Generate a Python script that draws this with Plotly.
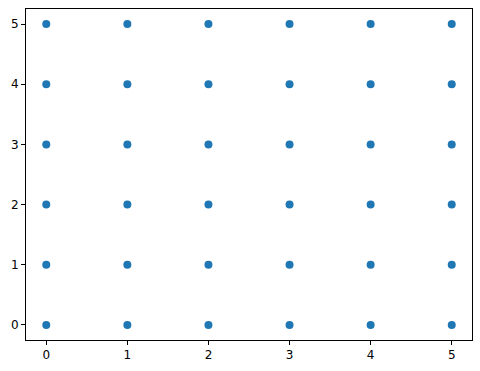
import plotly.graph_objects as go

x_values = [0, 1, 2, 3, 4, 5,
            0, 1, 2, 3, 4, 5,
            0, 1, 2, 3, 4, 5,
            0, 1, 2, 3, 4, 5,
            0, 1, 2, 3, 4, 5,
            0, 1, 2, 3, 4, 5]
y_values = [0, 0, 0, 0, 0, 0,
            1, 1, 1, 1, 1, 1,
            2, 2, 2, 2, 2, 2,
            3, 3, 3, 3, 3, 3,
            4, 4, 4, 4, 4, 4,
            5, 5, 5, 5, 5, 5]
tick_values = [0, 1, 2, 3, 4, 5]

fig = go.Figure(go.Scatter(
    x=x_values, y=y_values, mode="markers",
    marker=dict(color="#1f77b4", size=8, line=dict(width=0)),
    hoverinfo="skip",
))

axis_common = dict(
    showgrid=False, zeroline=False, showline=True, linecolor="black",
    linewidth=1, mirror=True, ticks="outside", ticklen=4, tickwidth=1,
    tickcolor="black", tickvals=tick_values,
    tickfont=dict(family="DejaVu Sans", size=12, color="black"),
)
fig.update_xaxes(range=[-0.25, 5.25], **axis_common)
fig.update_yaxes(range=[-0.25, 5.25], **axis_common)

fig.update_layout(
    width=480, height=371,
    margin=dict(l=26, r=8, t=9, b=31),
    plot_bgcolor="white", paper_bgcolor="white",
    showlegend=False,
)
fig.write_html("out.html")
